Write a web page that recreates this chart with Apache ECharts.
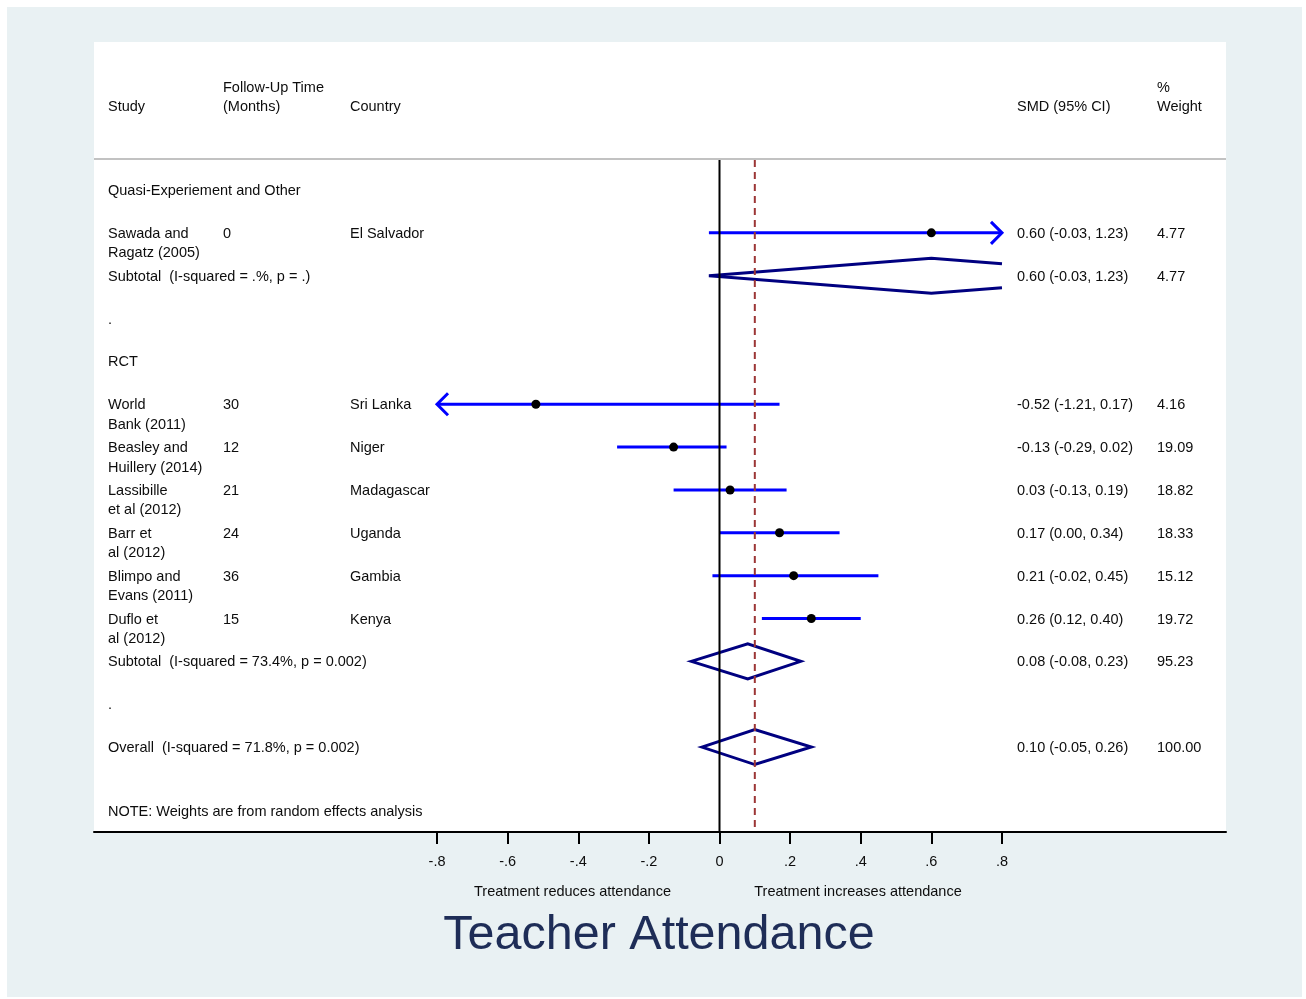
<!DOCTYPE html>
<html><head><meta charset="utf-8">
<script src="https://cdn.jsdelivr.net/npm/echarts@6/dist/echarts.min.js"></script>
<style>html,body{margin:0;padding:0;background:#fff}#c{width:1306px;height:999px}</style>
</head><body><div id="c"></div><script>
// ---------------- data ----------------
const studyNames = ['Sawada and\nRagatz (2005)', 'World\nBank (2011)', 'Beasley and\nHuillery (2014)', 'Lassibille\net al (2012)', 'Barr et\nal (2012)', 'Blimpo and\nEvans (2011)', 'Duflo et\nal (2012)'];
const followUp = ['0', '30', '12', '21', '24', '36', '15'];
const countries = ['El Salvador', 'Sri Lanka', 'Niger', 'Madagascar', 'Uganda', 'Gambia', 'Kenya'];
const smd = [0.60, -0.52, -0.13, 0.03, 0.17, 0.21, 0.26];
const ciLow = [-0.03, -1.21, -0.29, -0.13, 0.00, -0.02, 0.12];
const ciHigh = [1.23, 0.17, 0.02, 0.19, 0.34, 0.45, 0.40];
const weights = [4.77, 4.16, 19.09, 18.82, 18.33, 15.12, 19.72];
const studyRows = [1, 5, 6, 7, 8, 9, 10];

const pooledLabels = ['Subtotal  (I-squared = .%, p = .)', 'Subtotal  (I-squared = 73.4%, p = 0.002)', 'Overall  (I-squared = 71.8%, p = 0.002)'];
const pooledSmd = [0.60, 0.08, 0.10];
const pooledLow = [-0.03, -0.08, -0.05];
const pooledHigh = [1.23, 0.23, 0.26];
const pooledWeights = [4.77, 95.23, 100.00];
const pooledRows = [2, 11, 13];

const headingTexts = ['Quasi-Experiement and Other', '.', 'RCT', '.'];
const headingRows = [0, 3, 4, 12];

const headerLine1 = ['', 'Follow-Up Time', '', '', '%'];
const headerLine2 = ['Study', '(Months)', 'Country', 'SMD (95% CI)', 'Weight'];
const xTicks = [-0.8, -0.6, -0.4, -0.2, 0, 0.2, 0.4, 0.6, 0.8];
const axisNotes = ['Treatment reduces attendance', 'Treatment increases attendance'];
const noteText = 'NOTE: Weights are from random effects analysis';
const noteRow = 14.5;
const titleText = 'Teacher Attendance';
const overallEffect = pooledSmd[2];

// ---------------- layout ----------------
const FONT = 'Liberation Sans, Arial, Helvetica, sans-serif';
const TXT = '#0d0d0d';
const FS = 14.5;
const ROW_PX = 42.85, ROW0_Y = 190;
const PLOT_TOP = 42, PLOT_BOTTOM = 832, PLOT_LEFT = 94, PLOT_RIGHT = 1226;
const X0 = 719.5, X_SCALE = 353.1;
const xMin = (PLOT_LEFT - X0) / X_SCALE, xMax = (PLOT_RIGHT - X0) / X_SCALE;
const yMin = (PLOT_TOP - ROW0_Y) / ROW_PX, yMax = (PLOT_BOTTOM - ROW0_Y) / ROW_PX;
const CLIP_LO = xTicks[0], CLIP_HI = xTicks[xTicks.length - 1];
const COL_X = [108, 223, 350, 1017, 1157];
const SEP_Y = 159;
const LINE_H = 19.5;
const TEXT_DY = 1;
const DIAMOND_H = 17.5;
const ARROW = 11;

function fmt2(v) { return v.toFixed(2); }
function ciText(e, l, h) { return fmt2(e) + ' (' + fmt2(l) + ', ' + fmt2(h) + ')'; }
function tickFmt(v) {
  if (Math.abs(v) < 1e-9) return '0';
  return (v < 0 ? '-' : '') + Math.abs(v).toFixed(1).replace(/^0/, '');
}

// table rows built from the arrays
const tableRows = [];
headingTexts.forEach((t, i) => tableRows.push({ row: headingRows[i], cells: [[0, t]] }));
studyNames.forEach((n, i) => tableRows.push({ row: studyRows[i], cells: [[0, n], [1, followUp[i]], [2, countries[i]], [3, ciText(smd[i], ciLow[i], ciHigh[i])], [4, fmt2(weights[i])]] }));
pooledLabels.forEach((n, i) => tableRows.push({ row: pooledRows[i], cells: [[0, n], [3, ciText(pooledSmd[i], pooledLow[i], pooledHigh[i])], [4, fmt2(pooledWeights[i])]] }));
tableRows.push({ row: noteRow, cells: [[0, noteText]] });

const chart = echarts.init(document.getElementById('c'), null, { renderer: 'canvas' });

function textEl(x, y, text, extra) {
  return {
    type: 'text', x: x, y: y, silent: true,
    style: Object.assign({ text: text, fill: TXT, fontSize: FS, fontFamily: FONT, align: 'left', verticalAlign: 'top', lineHeight: LINE_H }, extra || {})
  };
}

const option = {
  backgroundColor: '#ffffff',
  animation: false,
  grid: { left: PLOT_LEFT, right: 1306 - PLOT_RIGHT, top: PLOT_TOP, bottom: 999 - PLOT_BOTTOM, show: false },
  xAxis: {
    type: 'value', min: xMin, max: xMax,
    splitLine: { show: false },
    axisLine: { show: true, onZero: false, lineStyle: { color: '#000', width: 2 } },
    axisTick: { show: true, length: 12, lineStyle: { color: '#000', width: 2 }, customValues: xTicks },
    axisLabel: { show: true, customValues: xTicks, formatter: tickFmt, color: TXT, fontSize: FS, fontFamily: FONT, margin: 22 }
  },
  yAxis: { type: 'value', min: yMin, max: yMax, inverse: true, show: false },
  graphic: [
    { type: 'rect', z: -20, silent: true, shape: { x: 7, y: 7, width: 1295, height: 990 }, style: { fill: '#e9f1f3' } },
    { type: 'rect', z: -19, silent: true, shape: { x: PLOT_LEFT, y: PLOT_TOP, width: PLOT_RIGHT - PLOT_LEFT, height: PLOT_BOTTOM - PLOT_TOP }, style: { fill: '#ffffff' } },
    { type: 'line', z: -18, silent: true, shape: { x1: PLOT_LEFT, y1: SEP_Y, x2: PLOT_RIGHT, y2: SEP_Y }, style: { stroke: '#c2c2c2', lineWidth: 2 } },
    ...headerLine1.map((t, i) => ({ type: 'text', silent: true, x: COL_X[i], y: 88, style: { text: t, fill: TXT, fontSize: FS, fontFamily: FONT, verticalAlign: 'middle' } })),
    ...headerLine2.map((t, i) => ({ type: 'text', silent: true, x: COL_X[i], y: 107, style: { text: t, fill: TXT, fontSize: FS, fontFamily: FONT, verticalAlign: 'middle' } })),
    { type: 'text', silent: true, x: 572.5, y: 892, style: { text: axisNotes[0], fill: TXT, fontSize: FS, fontFamily: FONT, align: 'center', verticalAlign: 'middle' } },
    { type: 'text', silent: true, x: 858, y: 892, style: { text: axisNotes[1], fill: TXT, fontSize: FS, fontFamily: FONT, align: 'center', verticalAlign: 'middle' } },
    { type: 'text', silent: true, x: 659, y: 936, style: { text: titleText, fill: '#1e2d57', fontSize: 48.5, fontFamily: FONT, align: 'center', verticalAlign: 'middle' } }
  ],
  series: [
    // table text
    {
      type: 'custom', name: 'table', z: 3, clip: false,
      data: tableRows.map(r => [0, r.row]),
      renderItem: function (params, api) {
        const r = tableRows[params.dataIndex];
        const y = api.coord([0, api.value(1)])[1] - LINE_H / 2 + TEXT_DY;
        return { type: 'group', children: r.cells.map(c => textEl(COL_X[c[0]], y, c[1])) };
      }
    },
    // confidence intervals with arrows when clipped
    {
      type: 'custom', name: 'ci', z: 4, clip: false,
      data: ciLow.map((l, i) => [l, ciHigh[i], studyRows[i]]),
      renderItem: function (params, api) {
        const lo = api.value(0), hi = api.value(1), row = api.value(2);
        const cl = Math.max(lo, CLIP_LO), ch = Math.min(hi, CLIP_HI);
        const p1 = api.coord([cl, row]), p2 = api.coord([ch, row]);
        const st = { stroke: '#0000ff', lineWidth: 3, fill: null };
        const kids = [{ type: 'line', shape: { x1: p1[0], y1: p1[1], x2: p2[0], y2: p2[1] }, style: st }];
        if (lo < CLIP_LO) kids.push({ type: 'polyline', shape: { points: [[p1[0] + ARROW, p1[1] - ARROW], [p1[0], p1[1]], [p1[0] + ARROW, p1[1] + ARROW]] }, style: st });
        if (hi > CLIP_HI) kids.push({ type: 'polyline', shape: { points: [[p2[0] - ARROW, p2[1] - ARROW], [p2[0], p2[1]], [p2[0] - ARROW, p2[1] + ARROW]] }, style: st });
        return { type: 'group', children: kids };
      }
    },
    // point estimates
    {
      type: 'scatter', name: 'smd', z: 5,
      symbol: 'circle', symbolSize: 9,
      itemStyle: { color: '#000', opacity: 1 },
      data: smd.map((v, i) => [v, studyRows[i]])
    },
    // pooled diamonds
    {
      type: 'custom', name: 'pooled', z: 4, clip: false,
      data: pooledLow.map((l, i) => [l, pooledSmd[i], pooledHigh[i], pooledRows[i]]),
      renderItem: function (params, api) {
        const lo = api.value(0), est = api.value(1), hi = api.value(2), row = api.value(3);
        const c = api.coord([est, row]);
        const top = [c[0], c[1] - DIAMOND_H], bot = [c[0], c[1] + DIAMOND_H];
        const rightPts = [], leftPts = [];
        if (hi > CLIP_HI) {
          const f = (hi - CLIP_HI) / (hi - est);
          const x = api.coord([CLIP_HI, row])[0];
          rightPts.push([x, c[1] - DIAMOND_H * f], [x, c[1] + DIAMOND_H * f]);
        } else rightPts.push(api.coord([hi, row]));
        if (lo < CLIP_LO) {
          const f = (CLIP_LO - lo) / (est - lo);
          const x = api.coord([CLIP_LO, row])[0];
          leftPts.push([x, c[1] + DIAMOND_H * f], [x, c[1] - DIAMOND_H * f]);
        } else leftPts.push(api.coord([lo, row]));
        const st = { stroke: '#000080', lineWidth: 3, fill: null, lineJoin: 'miter' };
        if (rightPts.length === 2 && leftPts.length === 1) {
          return { type: 'polyline', shape: { points: [rightPts[0], top, leftPts[0], bot, rightPts[1]] }, style: st };
        } else if (leftPts.length === 2 && rightPts.length === 1) {
          return { type: 'polyline', shape: { points: [leftPts[1], top, rightPts[0], bot, leftPts[0]] }, style: st };
        } else if (leftPts.length === 1 && rightPts.length === 1) {
          return { type: 'polygon', shape: { points: [leftPts[0], top, rightPts[0], bot] }, style: st };
        }
        return { type: 'group', children: [
          { type: 'polyline', shape: { points: [leftPts[1], top, rightPts[0]] }, style: st },
          { type: 'polyline', shape: { points: [leftPts[0], bot, rightPts[1]] }, style: st }
        ] };
      }
    },
    // reference lines: null effect and overall effect
    {
      type: 'custom', name: 'ref', z: 6, clip: false,
      data: [[0, 0], [overallEffect, 0]],
      renderItem: function (params, api) {
        const x = api.coord([api.value(0), 0])[0];
        const yb = api.coord([0, yMax])[1];
        const dashed = params.dataIndex === 1;
        return {
          type: 'line', shape: { x1: x, y1: SEP_Y + 1, x2: x, y2: yb },
          style: dashed ? { stroke: '#9c3636', lineWidth: 2, lineDash: [7, 5] } : { stroke: '#000', lineWidth: 2 }
        };
      }
    }
  ]
};
chart.setOption(option);
</script></body></html>
